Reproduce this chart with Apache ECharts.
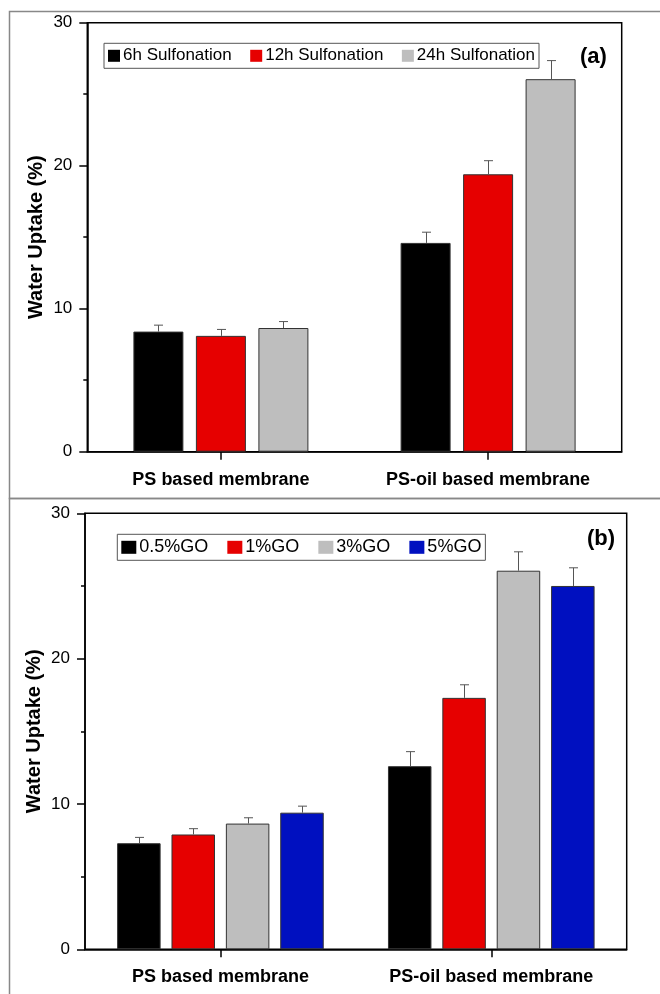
<!DOCTYPE html>
<html>
<head>
<meta charset="utf-8">
<script src="https://cdn.jsdelivr.net/npm/echarts@6/dist/echarts.min.js"></script>
<style>
html,body{margin:0;padding:0;background:#fff;}
#chart{width:660px;height:994px;}
</style>
</head>
<body>
<div id="chart"></div>
<script>
// ---- Data ----
var categories = ['PS based membrane', 'PS-oil based membrane'];
var yTicks = [0, 10, 20, 30];

// Panel (a)
var namesA = ['6h Sulfonation', '12h Sulfonation', '24h Sulfonation'];
var sulf6h = [8.4, 14.6];
var sulf6hErr = [0.45, 0.75];
var sulf12h = [8.1, 19.4];
var sulf12hErr = [0.45, 0.95];
var sulf24h = [8.65, 26.05];
var sulf24hErr = [0.45, 1.3];

// Panel (b)
var namesB = ['0.5%GO', '1%GO', '3%GO', '5%GO'];
var go05 = [7.3, 12.6];
var go05Err = [0.4, 1.0];
var go1 = [7.9, 17.3];
var go1Err = [0.4, 0.9];
var go3 = [8.65, 26.05];
var go3Err = [0.4, 1.3];
var go5 = [9.4, 25.0];
var go5Err = [0.45, 1.25];

// ---- Styles ----
var FONT = 'Liberation Sans, Arial, sans-serif';
var colorsA = ['#000000', '#e60000', '#bebebe'];
var colorsB = ['#000000', '#e60000', '#bebebe', '#0010c0'];
var barWA = 50, barWB = 43.5;

var chart = echarts.init(document.getElementById('chart'), null, {renderer: 'canvas'});

function makeErr(values, errs, idx, n, barW, axisIdx) {
  var spacing = barW * 1.25;
  var off = (idx - (n - 1) / 2) * spacing;
  return {
    type: 'custom',
    xAxisIndex: axisIdx, yAxisIndex: axisIdx,
    z: 10,
    silent: true,
    data: values.map(function (v, i) { return [i, v, errs[i]]; }),
    renderItem: function (params, api) {
      var x = api.value(0), y = api.value(1), e = api.value(2);
      var p0 = api.coord([x, y]);
      var p1 = api.coord([x, y + e]);
      var cx = Math.round(p0[0] + off) + 0.5;
      var st = {stroke: '#555', lineWidth: 1};
      return {
        type: 'group',
        children: [
          {type: 'line', shape: {x1: cx, y1: p0[1], x2: cx, y2: p1[1]}, style: st},
          {type: 'line', shape: {x1: cx - 4.5, y1: p1[1], x2: cx + 4.5, y2: p1[1]}, style: st}
        ]
      };
    }
  };
}

function bar(name, data, color, axisIdx, barW) {
  return {
    name: name, type: 'bar', xAxisIndex: axisIdx, yAxisIndex: axisIdx,
    data: data, barWidth: barW, barGap: '25%',
    itemStyle: {color: color, borderColor: '#333', borderWidth: 1},
    emphasis: {disabled: true}
  };
}

function xAxisCfg(gi) {
  return {
    type: 'category', gridIndex: gi, data: categories,
    axisLine: {show: true, lineStyle: {color: '#000', width: 1.5}},
    axisTick: {show: true, alignWithLabel: true, length: 8, inside: false, lineStyle: {color: '#000', width: 1.5}},
    axisLabel: {color: '#000', fontFamily: FONT, fontSize: 18, fontWeight: 'bold', margin: 19},
    splitLine: {show: false}
  };
}
function yAxisCfg(gi) {
  return {
    type: 'value', gridIndex: gi, min: yTicks[0], max: yTicks[yTicks.length - 1], interval: 10,
    name: 'Water Uptake (%)', nameLocation: 'middle', nameGap: 41, nameMoveOverlap: false,
    nameTextStyle: {color: '#000', fontFamily: FONT, fontSize: 20, fontWeight: 'bold'},
    axisLine: {show: true, lineStyle: {color: '#000', width: 1.5}},
    axisTick: {show: true, length: 8, lineStyle: {color: '#000', width: 1.5}},
    minorTick: {show: true, splitNumber: 2, length: 4, lineStyle: {color: '#000', width: 1.5}},
    axisLabel: {color: '#000', fontFamily: FONT, fontSize: 17, margin: 15},
    splitLine: {show: false}
  };
}

var option = {
  animation: false,
  backgroundColor: '#fff',
  grid: [
    {left: 87.3, top: 22.7, width: 534.4, height: 429, show: true, borderColor: '#000', borderWidth: 1.5, backgroundColor: 'transparent'},
    {left: 85, top: 513.3, width: 541.7, height: 436, show: true, borderColor: '#000', borderWidth: 1.5, backgroundColor: 'transparent'}
  ],
  xAxis: [xAxisCfg(0), xAxisCfg(1)],
  yAxis: [yAxisCfg(0), yAxisCfg(1)],
  legend: [
    {
      data: namesA, left: 104, top: 43.3, orient: 'horizontal',
      itemWidth: 12, itemHeight: 12, itemGap: 18.5,
      icon: 'rect',
      itemStyle: {borderWidth: 0},
      padding: [4, 4, 4, 4],
      borderColor: '#555', borderWidth: 1, backgroundColor: '#fff',
      textStyle: {color: '#000', fontFamily: FONT, fontSize: 17, padding: [0, 0, 0, -2]},
      selectedMode: false
    },
    {
      data: namesB, left: 117.3, top: 534.3, orient: 'horizontal',
      itemWidth: 15, itemHeight: 13, itemGap: 19,
      icon: 'rect',
      itemStyle: {borderWidth: 0},
      padding: [4, 4, 4, 4],
      borderColor: '#555', borderWidth: 1, backgroundColor: '#fff',
      textStyle: {color: '#000', fontFamily: FONT, fontSize: 18, padding: [0, 0, 0, -2]},
      selectedMode: false
    }
  ],
  graphic: [
    {type: 'rect', shape: {x: 9.5, y: 11.5, width: 700, height: 487}, style: {fill: 'none', stroke: '#888', lineWidth: 1.5}, z: -10, silent: true},
    {type: 'rect', shape: {x: 9.5, y: 498.5, width: 700, height: 600}, style: {fill: 'none', stroke: '#888', lineWidth: 1.5}, z: -10, silent: true},
    {type: 'text', left: 580, top: 46, style: {text: '(a)', fill: '#000', font: 'bold 22px ' + FONT}},
    {type: 'text', left: 587, top: 528, style: {text: '(b)', fill: '#000', font: 'bold 22px ' + FONT}}
  ],
  series: [
    bar(namesA[0], sulf6h, colorsA[0], 0, barWA),
    bar(namesA[1], sulf12h, colorsA[1], 0, barWA),
    bar(namesA[2], sulf24h, colorsA[2], 0, barWA),
    makeErr(sulf6h, sulf6hErr, 0, 3, barWA, 0),
    makeErr(sulf12h, sulf12hErr, 1, 3, barWA, 0),
    makeErr(sulf24h, sulf24hErr, 2, 3, barWA, 0),
    bar(namesB[0], go05, colorsB[0], 1, barWB),
    bar(namesB[1], go1, colorsB[1], 1, barWB),
    bar(namesB[2], go3, colorsB[2], 1, barWB),
    bar(namesB[3], go5, colorsB[3], 1, barWB),
    makeErr(go05, go05Err, 0, 4, barWB, 1),
    makeErr(go1, go1Err, 1, 4, barWB, 1),
    makeErr(go3, go3Err, 2, 4, barWB, 1),
    makeErr(go5, go5Err, 3, 4, barWB, 1)
  ]
};
chart.setOption(option);
</script>
</body>
</html>
